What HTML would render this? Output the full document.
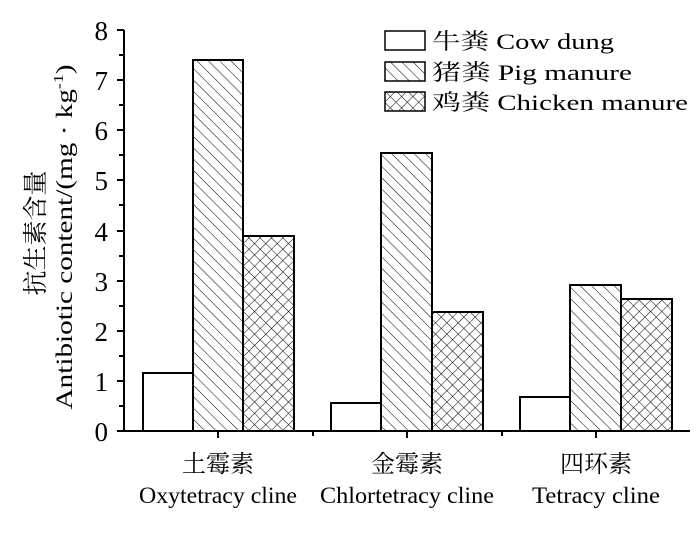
<!DOCTYPE html>
<html><head><meta charset="utf-8"><style>body{margin:0;background:#fff}</style></head><body>
<svg width="700" height="529" viewBox="0 0 700 529" xmlns="http://www.w3.org/2000/svg" style="font-family:'Liberation Serif','Noto Serif CJK SC',serif">
<defs>
<pattern id="d" patternUnits="userSpaceOnUse" width="8" height="8" patternTransform="rotate(-45)"><line x1="0" y1="0" x2="0" y2="8" stroke="#000" stroke-width="1"/></pattern>
<pattern id="x" patternUnits="userSpaceOnUse" width="8" height="8" patternTransform="rotate(45)"><line x1="0" y1="0" x2="0" y2="8" stroke="#000" stroke-width="1"/><line x1="0" y1="0" x2="8" y2="0" stroke="#000" stroke-width="1"/></pattern>
</defs>
<g stroke="#000" stroke-width="2" fill="none">
<line x1="124" y1="30" x2="124" y2="432"/>
<line x1="123" y1="431" x2="690" y2="431"/>
</g>
<g stroke="#000" stroke-width="2">
<line x1="117" y1="431" x2="124" y2="431"/><line x1="117" y1="381" x2="124" y2="381"/><line x1="117" y1="331" x2="124" y2="331"/><line x1="117" y1="281" x2="124" y2="281"/><line x1="117" y1="231" x2="124" y2="231"/><line x1="117" y1="180" x2="124" y2="180"/><line x1="117" y1="130" x2="124" y2="130"/><line x1="117" y1="80" x2="124" y2="80"/><line x1="117" y1="30" x2="124" y2="30"/>
<line x1="119" y1="406" x2="124" y2="406"/><line x1="119" y1="356" x2="124" y2="356"/><line x1="119" y1="306" x2="124" y2="306"/><line x1="119" y1="256" x2="124" y2="256"/><line x1="119" y1="205" x2="124" y2="205"/><line x1="119" y1="155" x2="124" y2="155"/><line x1="119" y1="105" x2="124" y2="105"/><line x1="119" y1="55" x2="124" y2="55"/>
<line x1="218" y1="431" x2="218" y2="438"/><line x1="407" y1="431" x2="407" y2="438"/><line x1="596" y1="431" x2="596" y2="438"/>
<line x1="313" y1="431" x2="313" y2="436"/><line x1="502" y1="431" x2="502" y2="436"/>
</g>
<g font-size="27" text-anchor="end">
<text x="108" y="441">0</text><text x="108" y="391">1</text><text x="108" y="341">2</text><text x="108" y="291">3</text><text x="108" y="241">4</text><text x="108" y="190">5</text><text x="108" y="140">6</text><text x="108" y="90">7</text><text x="108" y="40">8</text>
</g>
<g stroke="#000" stroke-width="2">
<rect x="143" y="373" width="50" height="58" fill="#fff"/>
<rect x="193" y="60" width="50" height="371" fill="url(#d)"/>
<rect x="243" y="236" width="51" height="195" fill="url(#x)"/>
<rect x="331" y="403" width="50" height="28" fill="#fff"/>
<rect x="381" y="153" width="51" height="278" fill="url(#d)"/>
<rect x="432" y="312" width="51" height="119" fill="url(#x)"/>
<rect x="520" y="397" width="50" height="34" fill="#fff"/>
<rect x="570" y="285" width="51" height="146" fill="url(#d)"/>
<rect x="621" y="299" width="51" height="132" fill="url(#x)"/>
</g>
<g font-size="23" text-anchor="middle">
<text x="218" y="472" font-size="24">土霉素</text><text x="218" y="503" textLength="158" lengthAdjust="spacingAndGlyphs">Oxytetracy cline</text>
<text x="407" y="472" font-size="24">金霉素</text><text x="407" y="503" textLength="174" lengthAdjust="spacingAndGlyphs">Chlortetracy cline</text>
<text x="596" y="472" font-size="24">四环素</text><text x="596" y="503" textLength="128" lengthAdjust="spacingAndGlyphs">Tetracy cline</text>
</g>
<g stroke="#000" stroke-width="1.5">
<rect x="385" y="31" width="40" height="19" fill="#fff"/>
<rect x="385" y="62" width="40" height="19" fill="url(#d)"/>
<rect x="385" y="92" width="40" height="19" fill="url(#x)"/>
</g>
<g font-size="22">
<text x="432" y="49" textLength="182" lengthAdjust="spacingAndGlyphs">牛粪 Cow dung</text>
<text x="432" y="80" textLength="200" lengthAdjust="spacingAndGlyphs">猪粪 Pig manure</text>
<text x="432" y="110" textLength="256" lengthAdjust="spacingAndGlyphs">鸡粪 Chicken manure</text>
</g>
<g font-size="23" text-anchor="middle">
<text transform="translate(44,233) rotate(-90)" font-size="25">抗生素含量</text>
<text transform="translate(72,237) rotate(-90)" textLength="345" lengthAdjust="spacingAndGlyphs">Antibiotic content/(mg · kg<tspan font-size="14" dy="-9">-1</tspan><tspan dy="9">)</tspan></text>
</g>
</svg>
</body></html>
